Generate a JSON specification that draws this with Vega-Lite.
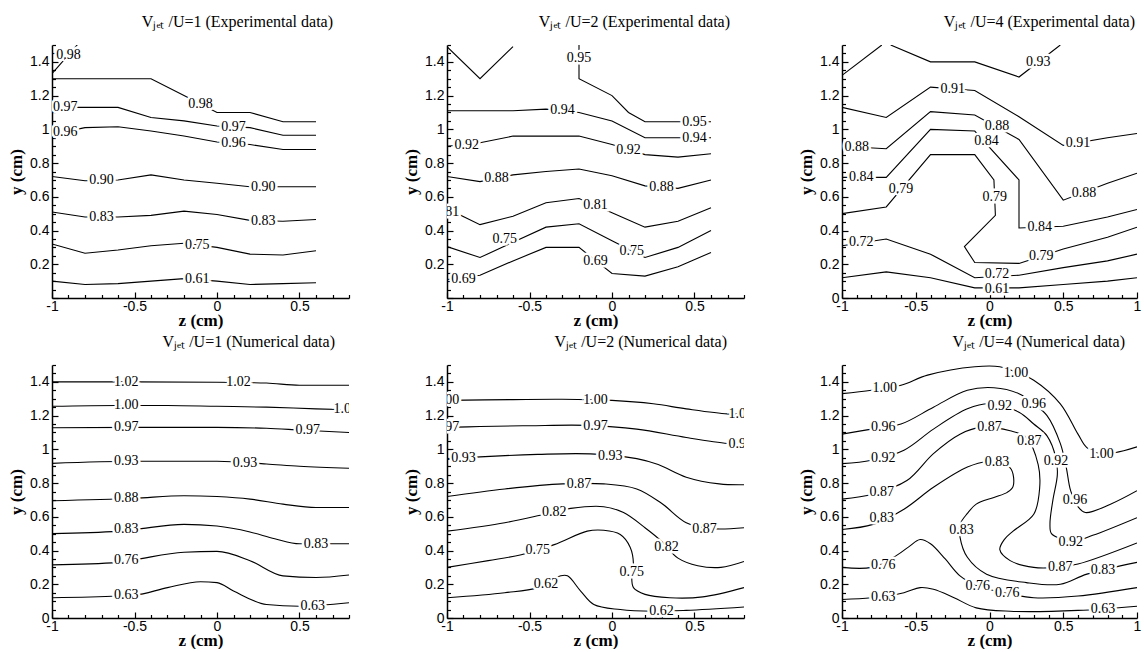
{
"$schema": "https://vega.github.io/schema/vega-lite/v6.json",
"background": "white",
"padding": {"left": 7, "top": 14, "right": 2, "bottom": 0},
"columns": 3,
"spacing": {"row": 5, "column": 52},
"config": {
 "view": {"stroke": null},
 "axis": {"domainColor": "black", "domainWidth": 1.5, "tickColor": "black", "tickWidth": 1.2, "labelColor": "black", "labelFont": "Liberation Sans", "labelFontSize": 14, "titleColor": "black", "titleFont": "Liberation Serif", "titleFontSize": 17, "titleFontWeight": "bold", "grid": false, "labelFlush": false, "labelOverlap": false, "labelPadding": 9},
 "axisX": {"titlePadding": -3, "labelPadding": 7},
 "axisY": {"titlePadding": 4},
 "title": {"font": "Liberation Serif", "fontSize": 16, "fontWeight": "normal", "color": "black", "anchor": "end", "frame": "group", "offset": 8}
},
"datasets": {
"lines": [
{"p":"a","k":1,"z":-1,"y":1.33},{"p":"a","k":1,"z":-0.83,"y":1.52},
{"p":"a","k":2,"z":-1,"y":1.3},{"p":"a","k":2,"z":-0.4,"y":1.3},{"p":"a","k":2,"z":-0.2,"y":1.2},{"p":"a","k":2,"z":0,"y":1.1},{"p":"a","k":2,"z":0.2,"y":1.1},{"p":"a","k":2,"z":0.4,"y":1.045},{"p":"a","k":2,"z":0.6,"y":1.045},
{"p":"a","k":3,"z":-1,"y":1.13},{"p":"a","k":3,"z":-0.6,"y":1.13},{"p":"a","k":3,"z":-0.4,"y":1.07},{"p":"a","k":3,"z":-0.2,"y":1.05},{"p":"a","k":3,"z":0,"y":1.02},{"p":"a","k":3,"z":0.2,"y":1.01},{"p":"a","k":3,"z":0.4,"y":0.965},{"p":"a","k":3,"z":0.6,"y":0.965},
{"p":"a","k":4,"z":-1,"y":0.97},{"p":"a","k":4,"z":-0.8,"y":1.01},{"p":"a","k":4,"z":-0.6,"y":1.015},{"p":"a","k":4,"z":-0.4,"y":0.99},{"p":"a","k":4,"z":-0.2,"y":0.96},{"p":"a","k":4,"z":0,"y":0.925},{"p":"a","k":4,"z":0.2,"y":0.91},{"p":"a","k":4,"z":0.4,"y":0.88},{"p":"a","k":4,"z":0.6,"y":0.88},
{"p":"a","k":5,"z":-1,"y":0.72},{"p":"a","k":5,"z":-0.8,"y":0.695},{"p":"a","k":5,"z":-0.6,"y":0.7},{"p":"a","k":5,"z":-0.4,"y":0.73},{"p":"a","k":5,"z":-0.2,"y":0.7},{"p":"a","k":5,"z":0,"y":0.68},{"p":"a","k":5,"z":0.2,"y":0.66},{"p":"a","k":5,"z":0.4,"y":0.66},{"p":"a","k":5,"z":0.6,"y":0.66},
{"p":"a","k":6,"z":-1,"y":0.51},{"p":"a","k":6,"z":-0.8,"y":0.48},{"p":"a","k":6,"z":-0.6,"y":0.48},{"p":"a","k":6,"z":-0.4,"y":0.49},{"p":"a","k":6,"z":-0.2,"y":0.515},{"p":"a","k":6,"z":0,"y":0.495},{"p":"a","k":6,"z":0.2,"y":0.46},{"p":"a","k":6,"z":0.4,"y":0.455},{"p":"a","k":6,"z":0.6,"y":0.465},
{"p":"a","k":7,"z":-1,"y":0.32},{"p":"a","k":7,"z":-0.8,"y":0.265},{"p":"a","k":7,"z":-0.6,"y":0.285},{"p":"a","k":7,"z":-0.4,"y":0.31},{"p":"a","k":7,"z":-0.2,"y":0.325},{"p":"a","k":7,"z":0,"y":0.3},{"p":"a","k":7,"z":0.2,"y":0.26},{"p":"a","k":7,"z":0.4,"y":0.255},{"p":"a","k":7,"z":0.6,"y":0.28},
{"p":"a","k":8,"z":-1,"y":0.1},{"p":"a","k":8,"z":-0.8,"y":0.08},{"p":"a","k":8,"z":-0.6,"y":0.085},{"p":"a","k":8,"z":-0.4,"y":0.1},{"p":"a","k":8,"z":-0.2,"y":0.115},{"p":"a","k":8,"z":0,"y":0.1},{"p":"a","k":8,"z":0.2,"y":0.08},{"p":"a","k":8,"z":0.4,"y":0.085},{"p":"a","k":8,"z":0.6,"y":0.09},

{"p":"b","k":1,"z":-1,"y":1.49},{"p":"b","k":1,"z":-0.8,"y":1.3},{"p":"b","k":1,"z":-0.6,"y":1.49},
{"p":"b","k":2,"z":-0.2,"y":1.5},{"p":"b","k":2,"z":-0.2,"y":1.3},{"p":"b","k":2,"z":0,"y":1.2},{"p":"b","k":2,"z":0.1,"y":1.1},{"p":"b","k":2,"z":0.2,"y":1.045},{"p":"b","k":2,"z":0.4,"y":1.045},{"p":"b","k":2,"z":0.6,"y":1.045},
{"p":"b","k":3,"z":-1,"y":1.11},{"p":"b","k":3,"z":-0.6,"y":1.11},{"p":"b","k":3,"z":-0.4,"y":1.12},{"p":"b","k":3,"z":-0.2,"y":1.1},{"p":"b","k":3,"z":0,"y":1.05},{"p":"b","k":3,"z":0.2,"y":0.95},{"p":"b","k":3,"z":0.4,"y":0.95},{"p":"b","k":3,"z":0.6,"y":0.95},
{"p":"b","k":4,"z":-1,"y":0.9},{"p":"b","k":4,"z":-0.8,"y":0.92},{"p":"b","k":4,"z":-0.6,"y":0.96},{"p":"b","k":4,"z":-0.4,"y":0.96},{"p":"b","k":4,"z":-0.2,"y":0.96},{"p":"b","k":4,"z":0,"y":0.91},{"p":"b","k":4,"z":0.2,"y":0.85},{"p":"b","k":4,"z":0.4,"y":0.835},{"p":"b","k":4,"z":0.6,"y":0.855},
{"p":"b","k":5,"z":-1,"y":0.72},{"p":"b","k":5,"z":-0.8,"y":0.69},{"p":"b","k":5,"z":-0.6,"y":0.73},{"p":"b","k":5,"z":-0.4,"y":0.75},{"p":"b","k":5,"z":-0.2,"y":0.765},{"p":"b","k":5,"z":0,"y":0.725},{"p":"b","k":5,"z":0.2,"y":0.665},{"p":"b","k":5,"z":0.4,"y":0.65},{"p":"b","k":5,"z":0.6,"y":0.7},
{"p":"b","k":6,"z":-1,"y":0.53},{"p":"b","k":6,"z":-0.8,"y":0.435},{"p":"b","k":6,"z":-0.6,"y":0.485},{"p":"b","k":6,"z":-0.4,"y":0.565},{"p":"b","k":6,"z":-0.2,"y":0.59},{"p":"b","k":6,"z":0,"y":0.505},{"p":"b","k":6,"z":0.2,"y":0.42},{"p":"b","k":6,"z":0.4,"y":0.455},{"p":"b","k":6,"z":0.6,"y":0.535},
{"p":"b","k":7,"z":-1,"y":0.305},{"p":"b","k":7,"z":-0.8,"y":0.24},{"p":"b","k":7,"z":-0.6,"y":0.33},{"p":"b","k":7,"z":-0.4,"y":0.42},{"p":"b","k":7,"z":-0.2,"y":0.44},{"p":"b","k":7,"z":0,"y":0.34},{"p":"b","k":7,"z":0.2,"y":0.24},{"p":"b","k":7,"z":0.4,"y":0.3},{"p":"b","k":7,"z":0.6,"y":0.4},
{"p":"b","k":8,"z":-1,"y":0.11},{"p":"b","k":8,"z":-0.8,"y":0.135},{"p":"b","k":8,"z":-0.6,"y":0.22},{"p":"b","k":8,"z":-0.4,"y":0.3},{"p":"b","k":8,"z":-0.2,"y":0.3},{"p":"b","k":8,"z":0,"y":0.145},{"p":"b","k":8,"z":0.2,"y":0.13},{"p":"b","k":8,"z":0.4,"y":0.185},{"p":"b","k":8,"z":0.6,"y":0.27},

{"p":"c","k":1,"z":-1,"y":1.32},{"p":"c","k":1,"z":-0.73,"y":1.5},
{"p":"c","k":2,"z":-0.67,"y":1.5},{"p":"c","k":2,"z":-0.4,"y":1.4},{"p":"c","k":2,"z":-0.1,"y":1.4},{"p":"c","k":2,"z":0.2,"y":1.31},{"p":"c","k":2,"z":0.48,"y":1.5},
{"p":"c","k":3,"z":-1,"y":1.13},{"p":"c","k":3,"z":-0.7,"y":1.07},{"p":"c","k":3,"z":-0.4,"y":1.25},{"p":"c","k":3,"z":-0.1,"y":1.23},{"p":"c","k":3,"z":0.2,"y":1.075},{"p":"c","k":3,"z":0.5,"y":0.905},{"p":"c","k":3,"z":0.8,"y":0.95},{"p":"c","k":3,"z":1,"y":0.975},
{"p":"c","k":4,"z":-1,"y":0.9},{"p":"c","k":4,"z":-0.7,"y":0.885},{"p":"c","k":4,"z":-0.4,"y":1.105},{"p":"c","k":4,"z":-0.1,"y":1.085},{"p":"c","k":4,"z":0.2,"y":0.94},{"p":"c","k":4,"z":0.5,"y":0.58},{"p":"c","k":4,"z":0.8,"y":0.68},{"p":"c","k":4,"z":1,"y":0.74},
{"p":"c","k":5,"z":-1,"y":0.715},{"p":"c","k":5,"z":-0.7,"y":0.715},{"p":"c","k":5,"z":-0.4,"y":1.0},{"p":"c","k":5,"z":-0.1,"y":0.99},{"p":"c","k":5,"z":0.2,"y":0.7},{"p":"c","k":5,"z":0.2,"y":0.415},{"p":"c","k":5,"z":0.5,"y":0.425},{"p":"c","k":5,"z":0.8,"y":0.48},{"p":"c","k":5,"z":1,"y":0.525},
{"p":"c","k":6,"z":-1,"y":0.5},{"p":"c","k":6,"z":-0.7,"y":0.54},{"p":"c","k":6,"z":-0.4,"y":0.85},{"p":"c","k":6,"z":-0.1,"y":0.85},{"p":"c","k":6,"z":0.03,"y":0.7},{"p":"c","k":6,"z":0.04,"y":0.49},{"p":"c","k":6,"z":-0.17,"y":0.305},{"p":"c","k":6,"z":-0.1,"y":0.21},{"p":"c","k":6,"z":0.2,"y":0.205},{"p":"c","k":6,"z":0.5,"y":0.29},{"p":"c","k":6,"z":0.8,"y":0.36},{"p":"c","k":6,"z":1,"y":0.42},
{"p":"c","k":7,"z":-1,"y":0.31},{"p":"c","k":7,"z":-0.7,"y":0.35},{"p":"c","k":7,"z":-0.4,"y":0.26},{"p":"c","k":7,"z":-0.1,"y":0.12},{"p":"c","k":7,"z":0.2,"y":0.135},{"p":"c","k":7,"z":0.5,"y":0.18},{"p":"c","k":7,"z":0.8,"y":0.22},{"p":"c","k":7,"z":1,"y":0.26},
{"p":"c","k":8,"z":-1,"y":0.12},{"p":"c","k":8,"z":-0.7,"y":0.155},{"p":"c","k":8,"z":-0.4,"y":0.12},{"p":"c","k":8,"z":-0.1,"y":0.06},{"p":"c","k":8,"z":0.2,"y":0.06},{"p":"c","k":8,"z":0.5,"y":0.08},{"p":"c","k":8,"z":0.8,"y":0.1},{"p":"c","k":8,"z":1,"y":0.12},

{"p":"d","k":1,"z":-1,"y":1.4},{"p":"d","k":1,"z":-0.5,"y":1.4},{"p":"d","k":1,"z":0,"y":1.398},{"p":"d","k":1,"z":0.3,"y":1.393},{"p":"d","k":1,"z":0.5,"y":1.38},{"p":"d","k":1,"z":0.8,"y":1.38},
{"p":"d","k":2,"z":-1,"y":1.255},{"p":"d","k":2,"z":-0.6,"y":1.26},{"p":"d","k":2,"z":-0.3,"y":1.26},{"p":"d","k":2,"z":0,"y":1.255},{"p":"d","k":2,"z":0.3,"y":1.25},{"p":"d","k":2,"z":0.6,"y":1.24},{"p":"d","k":2,"z":0.8,"y":1.235},
{"p":"d","k":3,"z":-1,"y":1.128},{"p":"d","k":3,"z":-0.5,"y":1.13},{"p":"d","k":3,"z":0,"y":1.13},{"p":"d","k":3,"z":0.3,"y":1.125},{"p":"d","k":3,"z":0.5,"y":1.115},{"p":"d","k":3,"z":0.8,"y":1.1},
{"p":"d","k":4,"z":-1,"y":0.917},{"p":"d","k":4,"z":-0.5,"y":0.929},{"p":"d","k":4,"z":0,"y":0.929},{"p":"d","k":4,"z":0.3,"y":0.913},{"p":"d","k":4,"z":0.5,"y":0.9},{"p":"d","k":4,"z":0.8,"y":0.888},
{"p":"d","k":5,"z":-1,"y":0.695},{"p":"d","k":5,"z":-0.5,"y":0.71},{"p":"d","k":5,"z":-0.2,"y":0.725},{"p":"d","k":5,"z":0,"y":0.72},{"p":"d","k":5,"z":0.2,"y":0.705},{"p":"d","k":5,"z":0.4,"y":0.675},{"p":"d","k":5,"z":0.6,"y":0.655},{"p":"d","k":5,"z":0.8,"y":0.655},
{"p":"d","k":6,"z":-1,"y":0.5},{"p":"d","k":6,"z":-0.6,"y":0.515},{"p":"d","k":6,"z":-0.5,"y":0.525},{"p":"d","k":6,"z":-0.2,"y":0.555},{"p":"d","k":6,"z":0,"y":0.545},{"p":"d","k":6,"z":0.2,"y":0.51},{"p":"d","k":6,"z":0.35,"y":0.47},{"p":"d","k":6,"z":0.5,"y":0.44},{"p":"d","k":6,"z":0.8,"y":0.44},
{"p":"d","k":7,"z":-1,"y":0.315},{"p":"d","k":7,"z":-0.6,"y":0.33},{"p":"d","k":7,"z":-0.5,"y":0.345},{"p":"d","k":7,"z":-0.2,"y":0.39},{"p":"d","k":7,"z":0,"y":0.395},{"p":"d","k":7,"z":0.2,"y":0.34},{"p":"d","k":7,"z":0.4,"y":0.25},{"p":"d","k":7,"z":0.6,"y":0.24},{"p":"d","k":7,"z":0.8,"y":0.255},
{"p":"d","k":8,"z":-1,"y":0.12},{"p":"d","k":8,"z":-0.6,"y":0.13},{"p":"d","k":8,"z":-0.5,"y":0.135},{"p":"d","k":8,"z":-0.3,"y":0.18},{"p":"d","k":8,"z":-0.1,"y":0.215},{"p":"d","k":8,"z":0,"y":0.21},{"p":"d","k":8,"z":0.1,"y":0.16},{"p":"d","k":8,"z":0.3,"y":0.08},{"p":"d","k":8,"z":0.5,"y":0.07},{"p":"d","k":8,"z":0.8,"y":0.09},

{"p":"e","k":1,"z":-1,"y":1.29},{"p":"e","k":1,"z":-0.6,"y":1.295},{"p":"e","k":1,"z":-0.3,"y":1.297},{"p":"e","k":1,"z":0,"y":1.29},{"p":"e","k":1,"z":0.25,"y":1.27},{"p":"e","k":1,"z":0.45,"y":1.24},{"p":"e","k":1,"z":0.7,"y":1.21},{"p":"e","k":1,"z":0.8,"y":1.21},
{"p":"e","k":2,"z":-1,"y":1.13},{"p":"e","k":2,"z":-0.8,"y":1.135},{"p":"e","k":2,"z":-0.5,"y":1.14},{"p":"e","k":2,"z":-0.15,"y":1.142},{"p":"e","k":2,"z":0.15,"y":1.12},{"p":"e","k":2,"z":0.45,"y":1.07},{"p":"e","k":2,"z":0.7,"y":1.035},{"p":"e","k":2,"z":0.8,"y":1.03},
{"p":"e","k":3,"z":-1,"y":0.94},{"p":"e","k":3,"z":-0.8,"y":0.955},{"p":"e","k":3,"z":-0.45,"y":0.97},{"p":"e","k":3,"z":-0.13,"y":0.973},{"p":"e","k":3,"z":0.15,"y":0.945},{"p":"e","k":3,"z":0.28,"y":0.91},{"p":"e","k":3,"z":0.45,"y":0.835},{"p":"e","k":3,"z":0.65,"y":0.795},{"p":"e","k":3,"z":0.8,"y":0.79},
{"p":"e","k":4,"z":-1,"y":0.72},{"p":"e","k":4,"z":-0.65,"y":0.765},{"p":"e","k":4,"z":-0.3,"y":0.795},{"p":"e","k":4,"z":-0.05,"y":0.795},{"p":"e","k":4,"z":0.15,"y":0.765},{"p":"e","k":4,"z":0.3,"y":0.68},{"p":"e","k":4,"z":0.45,"y":0.565},{"p":"e","k":4,"z":0.6,"y":0.53},{"p":"e","k":4,"z":0.8,"y":0.535},
{"p":"e","k":5,"z":-1,"y":0.515},{"p":"e","k":5,"z":-0.65,"y":0.565},{"p":"e","k":5,"z":-0.41,"y":0.615},{"p":"e","k":5,"z":-0.25,"y":0.65},{"p":"e","k":5,"z":-0.05,"y":0.66},{"p":"e","k":5,"z":0.07,"y":0.625},{"p":"e","k":5,"z":0.2,"y":0.535},{"p":"e","k":5,"z":0.3,"y":0.455},{"p":"e","k":5,"z":0.4,"y":0.355},{"p":"e","k":5,"z":0.52,"y":0.31},{"p":"e","k":5,"z":0.66,"y":0.3},{"p":"e","k":5,"z":0.8,"y":0.335},
{"p":"e","k":6,"z":-1,"y":0.3},{"p":"e","k":6,"z":-0.75,"y":0.34},{"p":"e","k":6,"z":-0.55,"y":0.375},{"p":"e","k":6,"z":-0.35,"y":0.435},{"p":"e","k":6,"z":-0.15,"y":0.515},{"p":"e","k":6,"z":-0.05,"y":0.52},{"p":"e","k":6,"z":0.05,"y":0.495},{"p":"e","k":6,"z":0.11,"y":0.42},{"p":"e","k":6,"z":0.13,"y":0.32},{"p":"e","k":6,"z":0.12,"y":0.25},{"p":"e","k":6,"z":0.13,"y":0.18},{"p":"e","k":6,"z":0.2,"y":0.14},{"p":"e","k":6,"z":0.35,"y":0.12},{"p":"e","k":6,"z":0.55,"y":0.125},{"p":"e","k":6,"z":0.8,"y":0.18},
{"p":"e","k":7,"z":-1,"y":0.12},{"p":"e","k":7,"z":-0.65,"y":0.15},{"p":"e","k":7,"z":-0.45,"y":0.18},{"p":"e","k":7,"z":-0.31,"y":0.25},{"p":"e","k":7,"z":-0.27,"y":0.25},{"p":"e","k":7,"z":-0.19,"y":0.16},{"p":"e","k":7,"z":-0.11,"y":0.08},{"p":"e","k":7,"z":0.05,"y":0.05},{"p":"e","k":7,"z":0.25,"y":0.04},{"p":"e","k":7,"z":0.45,"y":0.045},{"p":"e","k":7,"z":0.8,"y":0.065},

{"p":"f","k":1,"z":-1,"y":1.33},{"p":"f","k":1,"z":-0.8,"y":1.35},{"p":"f","k":1,"z":-0.6,"y":1.38},{"p":"f","k":1,"z":-0.42,"y":1.44},{"p":"f","k":1,"z":-0.1,"y":1.49},{"p":"f","k":1,"z":0.07,"y":1.49},{"p":"f","k":1,"z":0.2,"y":1.45},{"p":"f","k":1,"z":0.3,"y":1.41},{"p":"f","k":1,"z":0.48,"y":1.27},{"p":"f","k":1,"z":0.6,"y":1.09},{"p":"f","k":1,"z":0.66,"y":1.01},{"p":"f","k":1,"z":0.75,"y":0.975},{"p":"f","k":1,"z":0.85,"y":0.98},{"p":"f","k":1,"z":1,"y":1.015},
{"p":"f","k":2,"z":-1,"y":1.09},{"p":"f","k":2,"z":-0.8,"y":1.12},{"p":"f","k":2,"z":-0.6,"y":1.15},{"p":"f","k":2,"z":-0.38,"y":1.25},{"p":"f","k":2,"z":-0.15,"y":1.35},{"p":"f","k":2,"z":0.03,"y":1.365},{"p":"f","k":2,"z":0.2,"y":1.33},{"p":"f","k":2,"z":0.3,"y":1.27},{"p":"f","k":2,"z":0.39,"y":1.2},{"p":"f","k":2,"z":0.48,"y":1.035},{"p":"f","k":2,"z":0.52,"y":0.895},{"p":"f","k":2,"z":0.55,"y":0.755},{"p":"f","k":2,"z":0.6,"y":0.66},{"p":"f","k":2,"z":0.65,"y":0.625},{"p":"f","k":2,"z":0.82,"y":0.675},{"p":"f","k":2,"z":1,"y":0.755},
{"p":"f","k":3,"z":-1,"y":0.915},{"p":"f","k":3,"z":-0.8,"y":0.935},{"p":"f","k":3,"z":-0.58,"y":0.995},{"p":"f","k":3,"z":-0.38,"y":1.12},{"p":"f","k":3,"z":-0.15,"y":1.24},{"p":"f","k":3,"z":0,"y":1.27},{"p":"f","k":3,"z":0.2,"y":1.22},{"p":"f","k":3,"z":0.3,"y":1.15},{"p":"f","k":3,"z":0.39,"y":1.08},{"p":"f","k":3,"z":0.45,"y":0.95},{"p":"f","k":3,"z":0.46,"y":0.85},{"p":"f","k":3,"z":0.43,"y":0.7},{"p":"f","k":3,"z":0.41,"y":0.56},{"p":"f","k":3,"z":0.42,"y":0.5},{"p":"f","k":3,"z":0.5,"y":0.465},{"p":"f","k":3,"z":0.55,"y":0.45},{"p":"f","k":3,"z":0.7,"y":0.49},{"p":"f","k":3,"z":1,"y":0.595},
{"p":"f","k":4,"z":-1,"y":0.705},{"p":"f","k":4,"z":-0.79,"y":0.735},{"p":"f","k":4,"z":-0.56,"y":0.815},{"p":"f","k":4,"z":-0.38,"y":0.975},{"p":"f","k":4,"z":-0.2,"y":1.09},{"p":"f","k":4,"z":-0.06,"y":1.13},{"p":"f","k":4,"z":0.14,"y":1.11},{"p":"f","k":4,"z":0.25,"y":1.07},{"p":"f","k":4,"z":0.33,"y":0.91},{"p":"f","k":4,"z":0.34,"y":0.77},{"p":"f","k":4,"z":0.3,"y":0.615},{"p":"f","k":4,"z":0.16,"y":0.515},{"p":"f","k":4,"z":0.1,"y":0.465},{"p":"f","k":4,"z":0.07,"y":0.405},{"p":"f","k":4,"z":0.14,"y":0.34},{"p":"f","k":4,"z":0.3,"y":0.3},{"p":"f","k":4,"z":0.45,"y":0.3},{"p":"f","k":4,"z":0.6,"y":0.32},{"p":"f","k":4,"z":1,"y":0.445},
{"p":"f","k":5,"z":-1,"y":0.525},{"p":"f","k":5,"z":-0.79,"y":0.555},{"p":"f","k":5,"z":-0.58,"y":0.645},{"p":"f","k":5,"z":-0.38,"y":0.775},{"p":"f","k":5,"z":-0.15,"y":0.895},{"p":"f","k":5,"z":-0.02,"y":0.925},{"p":"f","k":5,"z":0.14,"y":0.89},{"p":"f","k":5,"z":0.16,"y":0.78},{"p":"f","k":5,"z":0.12,"y":0.745},{"p":"f","k":5,"z":0.03,"y":0.715},{"p":"f","k":5,"z":-0.09,"y":0.675},{"p":"f","k":5,"z":-0.15,"y":0.62},{"p":"f","k":5,"z":-0.2,"y":0.555},{"p":"f","k":5,"z":-0.2,"y":0.48},{"p":"f","k":5,"z":-0.15,"y":0.36},{"p":"f","k":5,"z":-0.02,"y":0.26},{"p":"f","k":5,"z":0.25,"y":0.21},{"p":"f","k":5,"z":0.48,"y":0.2},{"p":"f","k":5,"z":0.66,"y":0.26},{"p":"f","k":5,"z":1,"y":0.33},
{"p":"f","k":6,"z":-1,"y":0.3},{"p":"f","k":6,"z":-0.8,"y":0.3},{"p":"f","k":6,"z":-0.65,"y":0.36},{"p":"f","k":6,"z":-0.55,"y":0.42},{"p":"f","k":6,"z":-0.47,"y":0.465},{"p":"f","k":6,"z":-0.4,"y":0.44},{"p":"f","k":6,"z":-0.3,"y":0.35},{"p":"f","k":6,"z":-0.2,"y":0.25},{"p":"f","k":6,"z":-0.08,"y":0.19},{"p":"f","k":6,"z":0.1,"y":0.15},{"p":"f","k":6,"z":0.3,"y":0.12},{"p":"f","k":6,"z":0.6,"y":0.13},{"p":"f","k":6,"z":1,"y":0.18},
{"p":"f","k":7,"z":-1,"y":0.11},{"p":"f","k":7,"z":-0.8,"y":0.12},{"p":"f","k":7,"z":-0.58,"y":0.15},{"p":"f","k":7,"z":-0.47,"y":0.18},{"p":"f","k":7,"z":-0.38,"y":0.17},{"p":"f","k":7,"z":-0.24,"y":0.12},{"p":"f","k":7,"z":-0.09,"y":0.06},{"p":"f","k":7,"z":0.14,"y":0.04},{"p":"f","k":7,"z":0.6,"y":0.045},{"p":"f","k":7,"z":1,"y":0.07}
],
"labels": [
{"p":"a","t":"0.98","z":-0.9,"y":1.44},{"p":"a","t":"0.98","z":-0.1,"y":1.15},{"p":"a","t":"0.97","z":-0.92,"y":1.13},{"p":"a","t":"0.97","z":0.1,"y":1.015},{"p":"a","t":"0.96","z":-0.92,"y":0.985},{"p":"a","t":"0.96","z":0.1,"y":0.918},{"p":"a","t":"0.90","z":-0.7,"y":0.7},{"p":"a","t":"0.90","z":0.28,"y":0.66},{"p":"a","t":"0.83","z":-0.7,"y":0.48},{"p":"a","t":"0.83","z":0.28,"y":0.458},{"p":"a","t":"0.75","z":-0.12,"y":0.315},{"p":"a","t":"0.61","z":-0.12,"y":0.11},
{"p":"b","t":"0.95","z":-0.2,"y":1.42},{"p":"b","t":"0.95","z":0.5,"y":1.045},{"p":"b","t":"0.94","z":-0.3,"y":1.115},{"p":"b","t":"0.94","z":0.5,"y":0.95},{"p":"b","t":"0.92","z":-0.88,"y":0.91},{"p":"b","t":"0.92","z":0.1,"y":0.88},{"p":"b","t":"0.88","z":-0.7,"y":0.71},{"p":"b","t":"0.88","z":0.3,"y":0.658},{"p":"b","t":"0.81","z":-1,"y":0.51},{"p":"b","t":"0.81","z":-0.1,"y":0.55},{"p":"b","t":"0.75","z":-0.65,"y":0.35},{"p":"b","t":"0.75","z":0.12,"y":0.28},{"p":"b","t":"0.69","z":-0.9,"y":0.115},{"p":"b","t":"0.69","z":-0.1,"y":0.22},
{"p":"c","t":"0.93","z":0.33,"y":1.4},{"p":"c","t":"0.91","z":-0.25,"y":1.24},{"p":"c","t":"0.91","z":0.6,"y":0.92},{"p":"c","t":"0.88","z":-0.9,"y":0.895},{"p":"c","t":"0.88","z":0.05,"y":1.02},{"p":"c","t":"0.88","z":0.64,"y":0.625},{"p":"c","t":"0.84","z":-0.87,"y":0.715},{"p":"c","t":"0.84","z":-0.02,"y":0.93},{"p":"c","t":"0.84","z":0.34,"y":0.42},{"p":"c","t":"0.79","z":-0.6,"y":0.645},{"p":"c","t":"0.79","z":0.035,"y":0.6},{"p":"c","t":"0.79","z":0.35,"y":0.25},{"p":"c","t":"0.72","z":-0.87,"y":0.33},{"p":"c","t":"0.72","z":0.05,"y":0.14},{"p":"c","t":"0.61","z":0.05,"y":0.055},
{"p":"d","t":"1.02","z":-0.55,"y":1.4},{"p":"d","t":"1.02","z":0.13,"y":1.397},{"p":"d","t":"1.00","z":-0.55,"y":1.26},{"p":"d","t":"1.00","z":0.78,"y":1.237},{"p":"d","t":"0.97","z":-0.55,"y":1.13},{"p":"d","t":"0.97","z":0.55,"y":1.113},{"p":"d","t":"0.93","z":-0.55,"y":0.929},{"p":"d","t":"0.93","z":0.17,"y":0.92},{"p":"d","t":"0.88","z":-0.55,"y":0.71},{"p":"d","t":"0.83","z":-0.55,"y":0.525},{"p":"d","t":"0.83","z":0.6,"y":0.44},{"p":"d","t":"0.76","z":-0.55,"y":0.345},{"p":"d","t":"0.63","z":-0.55,"y":0.135},{"p":"d","t":"0.63","z":0.58,"y":0.072},
{"p":"e","t":"1.00","z":-1,"y":1.29},{"p":"e","t":"1.00","z":-0.1,"y":1.295},{"p":"e","t":"1.00","z":0.78,"y":1.21},{"p":"e","t":"0.97","z":-1,"y":1.13},{"p":"e","t":"0.97","z":-0.1,"y":1.14},{"p":"e","t":"0.97","z":0.78,"y":1.03},{"p":"e","t":"0.93","z":-0.9,"y":0.947},{"p":"e","t":"0.93","z":-0.01,"y":0.96},{"p":"e","t":"0.87","z":-0.2,"y":0.795},{"p":"e","t":"0.87","z":0.56,"y":0.53},{"p":"e","t":"0.82","z":-0.35,"y":0.63},{"p":"e","t":"0.82","z":0.33,"y":0.42},{"p":"e","t":"0.75","z":-0.45,"y":0.405},{"p":"e","t":"0.75","z":0.12,"y":0.27},{"p":"e","t":"0.62","z":-0.4,"y":0.2},{"p":"e","t":"0.62","z":0.3,"y":0.042},
{"p":"f","t":"1.00","z":-0.71,"y":1.365},{"p":"f","t":"1.00","z":0.18,"y":1.455},{"p":"f","t":"1.00","z":0.76,"y":0.975},{"p":"f","t":"0.96","z":-0.72,"y":1.13},{"p":"f","t":"0.96","z":0.3,"y":1.27},{"p":"f","t":"0.96","z":0.58,"y":0.7},{"p":"f","t":"0.92","z":-0.72,"y":0.95},{"p":"f","t":"0.92","z":0.07,"y":1.255},{"p":"f","t":"0.92","z":0.45,"y":0.93},{"p":"f","t":"0.92","z":0.55,"y":0.45},{"p":"f","t":"0.87","z":-0.73,"y":0.75},{"p":"f","t":"0.87","z":0.0,"y":1.13},{"p":"f","t":"0.87","z":0.27,"y":1.05},{"p":"f","t":"0.87","z":0.48,"y":0.3},{"p":"f","t":"0.83","z":-0.73,"y":0.59},{"p":"f","t":"0.83","z":0.05,"y":0.925},{"p":"f","t":"0.83","z":-0.19,"y":0.52},{"p":"f","t":"0.83","z":0.77,"y":0.285},{"p":"f","t":"0.76","z":-0.72,"y":0.315},{"p":"f","t":"0.76","z":-0.08,"y":0.19},{"p":"f","t":"0.76","z":0.12,"y":0.15},{"p":"f","t":"0.63","z":-0.72,"y":0.125},{"p":"f","t":"0.63","z":0.77,"y":0.055}
]
},
"concat": [
{
 "width": 297, "height": 253,
 "title": {"text": "Vⱼₑₜ /U=1 (Experimental data)", "dx": -16},
 "encoding": {
  "x": {"field": "z", "type": "quantitative", "scale": {"domain": [-1, 0.8], "nice": false, "zero": false},
   "axis": {"title": "z (cm)", "values": [-1,-0.9,-0.8,-0.7,-0.6,-0.5,-0.4,-0.3,-0.2,-0.1,0,0.1,0.2,0.3,0.4,0.5,0.6,0.7,0.8], "labelExpr": "abs(datum.value*2-round(datum.value*2))<0.001 ? datum.value+'' : ''", "tickSize": {"condition": {"test": "abs(datum.value*2-round(datum.value*2))<0.001", "value": -6}, "value": -3.5}}},
  "y": {"field": "y", "type": "quantitative", "scale": {"domain": [0, 1.5], "nice": false, "zero": false},
   "axis": {"title": "y (cm)", "values": [0,0.05,0.1,0.15,0.2,0.25,0.3,0.35,0.4,0.45,0.5,0.55,0.6,0.65,0.7,0.75,0.8,0.85,0.9,0.95,1,1.05,1.1,1.15,1.2,1.25,1.3,1.35,1.4,1.45,1.5], "labelExpr": "datum.value>0.001 && abs(datum.value*5-round(datum.value*5))<0.001 ? datum.value+'' : ''", "tickSize": {"condition": {"test": "abs(datum.value*5-round(datum.value*5))<0.001", "value": -6}, "value": -3.5}}}
 },
 "layer": [
  {"data": {"name": "lines"}, "transform": [{"filter": "datum.p=='a'"}, {"window": [{"op": "row_number", "as": "n"}]}], "mark": {"type": "line", "color": "black", "strokeWidth": 1.1, "clip": true}, "encoding": {"detail": {"field": "k"}, "order": {"field": "n", "type": "quantitative"}}},
  {"data": {"name": "labels"}, "transform": [{"filter": "datum.p=='a'"}], "mark": {"type": "text", "font": "Liberation Serif", "fontSize": 14, "fill": "white", "stroke": "white", "strokeWidth": 5, "clip": true}, "encoding": {"text": {"field": "t"}}},
  {"data": {"name": "labels"}, "transform": [{"filter": "datum.p=='a'"}], "mark": {"type": "text", "font": "Liberation Serif", "fontSize": 14, "color": "black", "clip": true}, "encoding": {"text": {"field": "t"}}}
 ]
},
{
 "width": 297, "height": 253,
 "title": {"text": "Vⱼₑₜ /U=2 (Experimental data)", "dx": -14},
 "encoding": {
  "x": {"field": "z", "type": "quantitative", "scale": {"domain": [-1, 0.8], "nice": false, "zero": false},
   "axis": {"title": "z (cm)", "values": [-1,-0.9,-0.8,-0.7,-0.6,-0.5,-0.4,-0.3,-0.2,-0.1,0,0.1,0.2,0.3,0.4,0.5,0.6,0.7,0.8], "labelExpr": "abs(datum.value*2-round(datum.value*2))<0.001 ? datum.value+'' : ''", "tickSize": {"condition": {"test": "abs(datum.value*2-round(datum.value*2))<0.001", "value": -6}, "value": -3.5}}},
  "y": {"field": "y", "type": "quantitative", "scale": {"domain": [0, 1.5], "nice": false, "zero": false},
   "axis": {"title": "y (cm)", "values": [0,0.05,0.1,0.15,0.2,0.25,0.3,0.35,0.4,0.45,0.5,0.55,0.6,0.65,0.7,0.75,0.8,0.85,0.9,0.95,1,1.05,1.1,1.15,1.2,1.25,1.3,1.35,1.4,1.45,1.5], "labelExpr": "datum.value>0.001 && abs(datum.value*5-round(datum.value*5))<0.001 ? datum.value+'' : ''", "tickSize": {"condition": {"test": "abs(datum.value*5-round(datum.value*5))<0.001", "value": -6}, "value": -3.5}}}
 },
 "layer": [
  {"data": {"name": "lines"}, "transform": [{"filter": "datum.p=='b'"}, {"window": [{"op": "row_number", "as": "n"}]}], "mark": {"type": "line", "color": "black", "strokeWidth": 1.1, "clip": true}, "encoding": {"detail": {"field": "k"}, "order": {"field": "n", "type": "quantitative"}}},
  {"data": {"name": "labels"}, "transform": [{"filter": "datum.p=='b'"}], "mark": {"type": "text", "font": "Liberation Serif", "fontSize": 14, "fill": "white", "stroke": "white", "strokeWidth": 5, "clip": true}, "encoding": {"text": {"field": "t"}}},
  {"data": {"name": "labels"}, "transform": [{"filter": "datum.p=='b'"}], "mark": {"type": "text", "font": "Liberation Serif", "fontSize": 14, "color": "black", "clip": true}, "encoding": {"text": {"field": "t"}}}
 ]
},
{
 "width": 295, "height": 253,
 "title": {"text": "Vⱼₑₜ /U=4 (Experimental data)", "dx": -2},
 "encoding": {
  "x": {"field": "z", "type": "quantitative", "scale": {"domain": [-1, 1], "nice": false, "zero": false},
   "axis": {"title": "z (cm)", "values": [-1,-0.9,-0.8,-0.7,-0.6,-0.5,-0.4,-0.3,-0.2,-0.1,0,0.1,0.2,0.3,0.4,0.5,0.6,0.7,0.8,0.9,1], "labelExpr": "abs(datum.value*2-round(datum.value*2))<0.001 ? datum.value+'' : ''", "tickSize": {"condition": {"test": "abs(datum.value*2-round(datum.value*2))<0.001", "value": -6}, "value": -3.5}}},
  "y": {"field": "y", "type": "quantitative", "scale": {"domain": [0, 1.5], "nice": false, "zero": false},
   "axis": {"title": "y (cm)", "values": [0,0.05,0.1,0.15,0.2,0.25,0.3,0.35,0.4,0.45,0.5,0.55,0.6,0.65,0.7,0.75,0.8,0.85,0.9,0.95,1,1.05,1.1,1.15,1.2,1.25,1.3,1.35,1.4,1.45,1.5], "labelExpr": "abs(datum.value*5-round(datum.value*5))<0.001 ? datum.value+'' : ''", "tickSize": {"condition": {"test": "abs(datum.value*5-round(datum.value*5))<0.001", "value": -6}, "value": -3.5}}}
 },
 "layer": [
  {"data": {"name": "lines"}, "transform": [{"filter": "datum.p=='c'"}, {"window": [{"op": "row_number", "as": "n"}]}], "mark": {"type": "line", "color": "black", "strokeWidth": 1.1, "clip": true}, "encoding": {"detail": {"field": "k"}, "order": {"field": "n", "type": "quantitative"}}},
  {"data": {"name": "labels"}, "transform": [{"filter": "datum.p=='c'"}], "mark": {"type": "text", "font": "Liberation Serif", "fontSize": 14, "fill": "white", "stroke": "white", "strokeWidth": 5, "clip": true}, "encoding": {"text": {"field": "t"}}},
  {"data": {"name": "labels"}, "transform": [{"filter": "datum.p=='c'"}], "mark": {"type": "text", "font": "Liberation Serif", "fontSize": 14, "color": "black", "clip": true}, "encoding": {"text": {"field": "t"}}}
 ]
},
{
 "width": 297, "height": 253,
 "title": {"text": "Vⱼₑₜ /U=1 (Numerical data)", "dx": -14},
 "encoding": {
  "x": {"field": "z", "type": "quantitative", "scale": {"domain": [-1, 0.8], "nice": false, "zero": false},
   "axis": {"title": "z (cm)", "values": [-1,-0.9,-0.8,-0.7,-0.6,-0.5,-0.4,-0.3,-0.2,-0.1,0,0.1,0.2,0.3,0.4,0.5,0.6,0.7,0.8], "labelExpr": "abs(datum.value*2-round(datum.value*2))<0.001 ? datum.value+'' : ''", "tickSize": {"condition": {"test": "abs(datum.value*2-round(datum.value*2))<0.001", "value": -6}, "value": -3.5}}},
  "y": {"field": "y", "type": "quantitative", "scale": {"domain": [0, 1.5], "nice": false, "zero": false},
   "axis": {"title": "y (cm)", "values": [0,0.05,0.1,0.15,0.2,0.25,0.3,0.35,0.4,0.45,0.5,0.55,0.6,0.65,0.7,0.75,0.8,0.85,0.9,0.95,1,1.05,1.1,1.15,1.2,1.25,1.3,1.35,1.4,1.45,1.5], "labelExpr": "abs(datum.value*5-round(datum.value*5))<0.001 ? datum.value+'' : ''", "tickSize": {"condition": {"test": "abs(datum.value*5-round(datum.value*5))<0.001", "value": -6}, "value": -3.5}}}
 },
 "layer": [
  {"data": {"name": "lines"}, "transform": [{"filter": "datum.p=='d'"}, {"window": [{"op": "row_number", "as": "n"}]}], "mark": {"type": "line", "color": "black", "strokeWidth": 1.1, "clip": true, "interpolate": "monotone"}, "encoding": {"detail": {"field": "k"}, "order": {"field": "n", "type": "quantitative"}}},
  {"data": {"name": "labels"}, "transform": [{"filter": "datum.p=='d'"}], "mark": {"type": "text", "font": "Liberation Serif", "fontSize": 14, "fill": "white", "stroke": "white", "strokeWidth": 5, "clip": true}, "encoding": {"text": {"field": "t"}}},
  {"data": {"name": "labels"}, "transform": [{"filter": "datum.p=='d'"}], "mark": {"type": "text", "font": "Liberation Serif", "fontSize": 14, "color": "black", "clip": true}, "encoding": {"text": {"field": "t"}}}
 ]
},
{
 "width": 297, "height": 253,
 "title": {"text": "Vⱼₑₜ /U=2 (Numerical data)", "dx": -17},
 "encoding": {
  "x": {"field": "z", "type": "quantitative", "scale": {"domain": [-1, 0.8], "nice": false, "zero": false},
   "axis": {"title": "z (cm)", "values": [-1,-0.9,-0.8,-0.7,-0.6,-0.5,-0.4,-0.3,-0.2,-0.1,0,0.1,0.2,0.3,0.4,0.5,0.6,0.7,0.8], "labelExpr": "abs(datum.value*2-round(datum.value*2))<0.001 ? datum.value+'' : ''", "tickSize": {"condition": {"test": "abs(datum.value*2-round(datum.value*2))<0.001", "value": -6}, "value": -3.5}}},
  "y": {"field": "y", "type": "quantitative", "scale": {"domain": [0, 1.5], "nice": false, "zero": false},
   "axis": {"title": "y (cm)", "values": [0,0.05,0.1,0.15,0.2,0.25,0.3,0.35,0.4,0.45,0.5,0.55,0.6,0.65,0.7,0.75,0.8,0.85,0.9,0.95,1,1.05,1.1,1.15,1.2,1.25,1.3,1.35,1.4,1.45,1.5], "labelExpr": "abs(datum.value*5-round(datum.value*5))<0.001 ? datum.value+'' : ''", "tickSize": {"condition": {"test": "abs(datum.value*5-round(datum.value*5))<0.001", "value": -6}, "value": -3.5}}}
 },
 "layer": [
  {"data": {"name": "lines"}, "transform": [{"filter": "datum.p=='e'"}, {"window": [{"op": "row_number", "as": "n"}]}], "mark": {"type": "line", "color": "black", "strokeWidth": 1.1, "clip": true, "interpolate": "catmull-rom"}, "encoding": {"detail": {"field": "k"}, "order": {"field": "n", "type": "quantitative"}}},
  {"data": {"name": "labels"}, "transform": [{"filter": "datum.p=='e'"}], "mark": {"type": "text", "font": "Liberation Serif", "fontSize": 14, "fill": "white", "stroke": "white", "strokeWidth": 5, "clip": true}, "encoding": {"text": {"field": "t"}}},
  {"data": {"name": "labels"}, "transform": [{"filter": "datum.p=='e'"}], "mark": {"type": "text", "font": "Liberation Serif", "fontSize": 14, "color": "black", "clip": true}, "encoding": {"text": {"field": "t"}}}
 ]
},
{
 "width": 295, "height": 253,
 "title": {"text": "Vⱼₑₜ /U=4 (Numerical data)", "dx": -12},
 "encoding": {
  "x": {"field": "z", "type": "quantitative", "scale": {"domain": [-1, 1], "nice": false, "zero": false},
   "axis": {"title": "z (cm)", "values": [-1,-0.9,-0.8,-0.7,-0.6,-0.5,-0.4,-0.3,-0.2,-0.1,0,0.1,0.2,0.3,0.4,0.5,0.6,0.7,0.8,0.9,1], "labelExpr": "abs(datum.value*2-round(datum.value*2))<0.001 ? datum.value+'' : ''", "tickSize": {"condition": {"test": "abs(datum.value*2-round(datum.value*2))<0.001", "value": -6}, "value": -3.5}}},
  "y": {"field": "y", "type": "quantitative", "scale": {"domain": [0, 1.5], "nice": false, "zero": false},
   "axis": {"title": "y (cm)", "values": [0,0.05,0.1,0.15,0.2,0.25,0.3,0.35,0.4,0.45,0.5,0.55,0.6,0.65,0.7,0.75,0.8,0.85,0.9,0.95,1,1.05,1.1,1.15,1.2,1.25,1.3,1.35,1.4,1.45,1.5], "labelExpr": "abs(datum.value*5-round(datum.value*5))<0.001 ? datum.value+'' : ''", "tickSize": {"condition": {"test": "abs(datum.value*5-round(datum.value*5))<0.001", "value": -6}, "value": -3.5}}}
 },
 "layer": [
  {"data": {"name": "lines"}, "transform": [{"filter": "datum.p=='f'"}, {"window": [{"op": "row_number", "as": "n"}]}], "mark": {"type": "line", "color": "black", "strokeWidth": 1.1, "clip": true, "interpolate": "catmull-rom"}, "encoding": {"detail": {"field": "k"}, "order": {"field": "n", "type": "quantitative"}}},
  {"data": {"name": "labels"}, "transform": [{"filter": "datum.p=='f'"}], "mark": {"type": "text", "font": "Liberation Serif", "fontSize": 14, "fill": "white", "stroke": "white", "strokeWidth": 5, "clip": true}, "encoding": {"text": {"field": "t"}}},
  {"data": {"name": "labels"}, "transform": [{"filter": "datum.p=='f'"}], "mark": {"type": "text", "font": "Liberation Serif", "fontSize": 14, "color": "black", "clip": true}, "encoding": {"text": {"field": "t"}}}
 ]
}
]
}
